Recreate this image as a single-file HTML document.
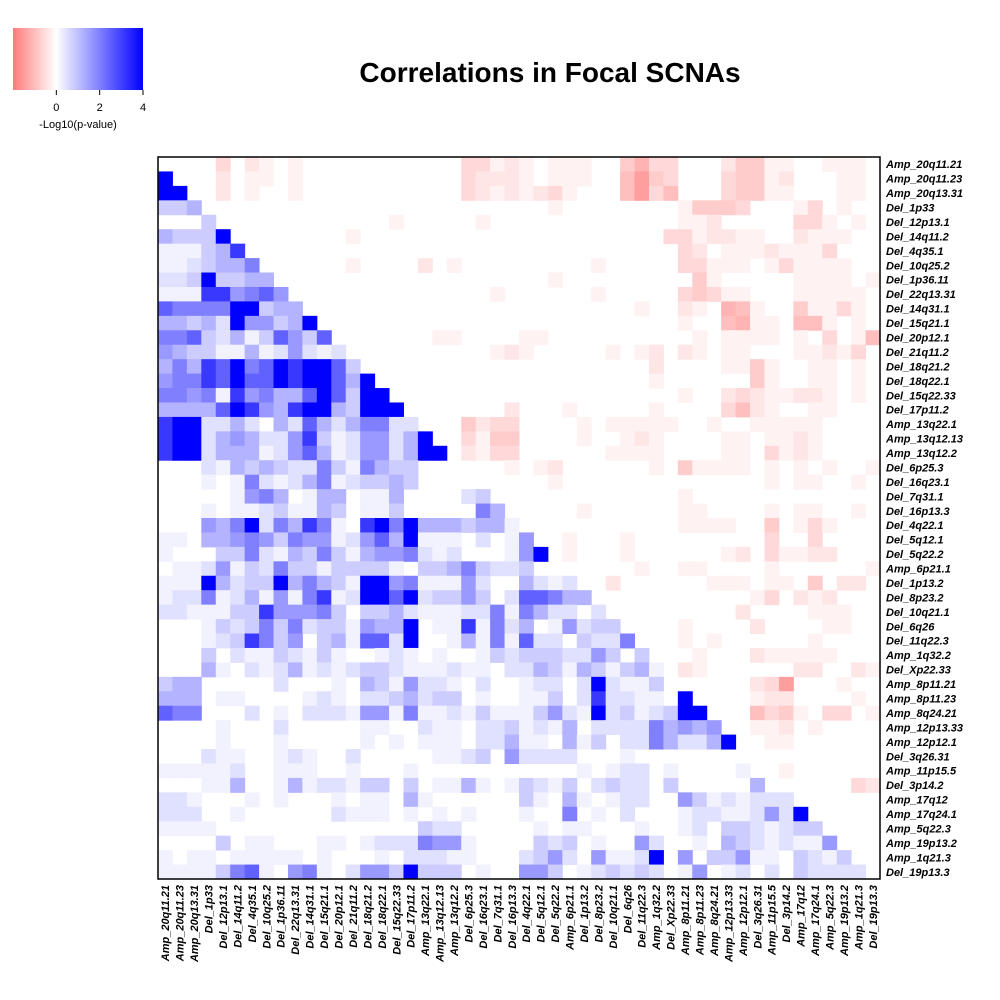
<!DOCTYPE html>
<html><head><meta charset="utf-8">
<style>
html,body{margin:0;padding:0;background:#fff;}
svg{display:block;font-family:"Liberation Sans",Arial,sans-serif;}
</style></head>
<body>
<svg id="chart" width="1000" height="1000" viewBox="0 0 1000 1000" xmlns="http://www.w3.org/2000/svg">
  <defs>
    <linearGradient id="lg" x1="0" x2="1" y1="0" y2="0">
      <stop offset="0" stop-color="#ff7a7a"/>
      <stop offset="0.333" stop-color="#ffffff"/>
      <stop offset="1" stop-color="#0000ff"/>
    </linearGradient>
  </defs>
  <text x="550" y="82" text-anchor="middle" font-size="28" font-weight="bold">Correlations in Focal SCNAs</text>
  <g>
    <rect x="13" y="28" width="130" height="62" fill="url(#lg)"/>
    <g id="legendTicks"></g>
    <text x="78" y="128" text-anchor="middle" font-size="11">-Log10(p-value)</text>
  </g>
  <g id="cells"></g>
  <rect x="158" y="157" width="722" height="722" fill="none" stroke="#000" stroke-width="1.5"/>
  <g id="rowLabels"></g>
  <g id="colLabels"></g>
</svg>
<script>
const labels = ["Amp_20q11.21","Amp_20q11.23","Amp_20q13.31","Del_1p33","Del_12p13.1","Del_14q11.2","Del_4q35.1","Del_10q25.2","Del_1p36.11","Del_22q13.31","Del_14q31.1","Del_15q21.1","Del_20p12.1","Del_21q11.2","Del_18q21.2","Del_18q22.1","Del_15q22.33","Del_17p11.2","Amp_13q22.1","Amp_13q12.13","Amp_13q12.2","Del_6p25.3","Del_16q23.1","Del_7q31.1","Del_16p13.3","Del_4q22.1","Del_5q12.1","Del_5q22.2","Amp_6p21.1","Del_1p13.2","Del_8p23.2","Del_10q21.1","Del_6q26","Del_11q22.3","Amp_1q32.2","Del_Xp22.33","Amp_8p11.21","Amp_8p11.23","Amp_8q24.21","Amp_12p13.33","Amp_12p12.1","Del_3q26.31","Amp_11p15.5","Del_3p14.2","Amp_17q12","Amp_17q24.1","Amp_5q22.3","Amp_19p13.2","Amp_1q21.3","Del_19p13.3"];
// intensity levels per row, columns 1-25; below diagonal = positive (blue), above = negative (red)
const rowsLeft = [
"0000302101"+"00000000000"+"3312",
"9000201101"+"00000000000"+"3222",
"9900201001"+"00000000000"+"3212",
"3340"+"000000000000000000000",
"00030"+"00000000000"+"1"+"00000"+"1"+"00",
"433390"+"0000000"+"1"+"00000000000",
"1113480"+"000000000000000000",
"11234460"+"00000"+"1"+"0000"+"2"+"0"+"1"+"0000",
"223933440"+"0000000000000000",
"1118856750"+"0000000000000"+"10",
"76666993440"+"00000000000000",
"443429553490"+"0000000000000",
"6673241375370"+"000000"+"11"+"0000",
"54331141252120"+"000000000"+"12",
"464879679899730"+"0000000000",
"5668797798997490"+"000000000",
"66561856447973990"+"00000000",
"444479854899439990"+"000000"+"2",
"8992242042742466220"+"00"+"4233",
"89924542258312552490"+"0"+"3144",
"899244412574125524990"+"2133",
"000"+"214343226316433"+"000"+"0"+"00"+"1",
"000"+"101621246123343"+"0000"+"0"+"00",
"00000"+"156401440114"+"0000"+"23"+"00",
"000"+"10112311430113"+"00000"+"640",
"0005469264861089694443441",
"1104456536551257491110201",
"1000336214363145562120001",
"0112513263313333103346322",
"1119423394643199561115200",
"1226124151681299792335302",
"2211133855563033421112261",
"0001323636233154490118162",
"0001238635034177290014161",
"0003021132131001210100132",
"0004102124121233211121102",
"3440000020001043152210200",
"4440110000121022342330100",
"7660002010222155161121311",
"0000100020000011002110223",
"0000100010000010101110224",
"000"+"211"+"00"+"121"+"00"+"2"+"00000"+"11"+"2305",
"1111120011100100010000000",
"0001140014122133030114101",
"2210001010001011041000000",
"2220010000002111010101000",
"1111"+"00000000000000"+"322"+"0000",
"0000301100011012226551000",
"1011011111010001022211000",
"1111367105610255393330100"
];
// intensity levels per row, columns 26-50
const rowsRight = [
"1011100463300024411001110",
"1011100574300034412000110",
"1231000573500034411000110",
"001"+"00000000"+"14443"+"000"+"13"+"0"+"1"+"00",
"00000000000"+"112"+"00000"+"331"+"010",
"0000000000"+"3312211"+"00"+"2111"+"00",
"00000000000"+"32011121113"+"000",
"00000"+"1"+"00000"+"331110131111"+"00",
"001"+"000000000"+"41"+"00000"+"1111"+"01",
"00000"+"1"+"00000"+"34311"+"000"+"11111"+"0",
"00000000"+"1"+"00"+"21"+"0"+"651"+"00"+"41131"+"0",
"00000000000"+"1"+"00"+"5611"+"0"+"551"+"0"+"1"+"0",
"11"+"0000000000"+"1"+"0"+"1111"+"0"+"1"+"0"+"3"+"0"+"1"+"5",
"1"+"00000"+"1"+"0"+"1"+"2"+"0"+"2"+"1"+"0"+"1"+"1"+"000"+"11213"+"0",
"000000000"+"2"+"0000"+"1141"+"00"+"11"+"0"+"1"+"0",
"000000000"+"1"+"000000"+"41"+"00"+"11"+"010",
"00000000000"+"1"+"00"+"23211221"+"010",
"000"+"1"+"00000"+"1"+"0000"+"3521"+"00"+"11"+"000",
"0000"+"1"+"0"+"11111"+"00"+"1"+"00"+"11111"+"0000",
"0000"+"1"+"00"+"121"+"0000"+"11"+"0"+"1121"+"0000",
"000000"+"1111"+"0000"+"11"+"0"+"3121"+"0000",
"0"+"12"+"000000"+"1"+"0"+"41111"+"0"+"1"+"0"+"1"+"0"+"1"+"00"+"1",
"00"+"1"+"00000000000000"+"1"+"0"+"11"+"00"+"1"+"0",
"00000000000"+"1"+"0000000000000",
"0000"+"1"+"000000"+"11"+"0000"+"1"+"0"+"11"+"00"+"1"+"0",
"0"+"0000000000"+"1111"+"00"+"4"+"0"+"1"+"3"+"1"+"000",
"5"+"0"+"0"+"1"+"000"+"1"+"000000000"+"3"+"00"+"3"+"0000",
"59"+"0"+"1"+"000"+"1"+"000000"+"12"+"0"+"31122"+"000",
"3"+"00"+"0"+"0000"+"1"+"00"+"11"+"0000"+"1"+"000000"+"1",
"4212"+"0"+"0"+"2"+"000000"+"111"+"0"+"11"+"0"+"4"+"0"+"22"+"0",
"77644"+"0"+"0000000000"+"1"+"3"+"0"+"2"+"1"+"2"+"000",
"642202"+"0"+"00000000"+"2"+"0000"+"111"+"00",
"4015233"+"0"+"000"+"1"+"0000"+"2"+"0000"+"11"+"00",
"72203226"+"0"+"00"+"1"+"0"+"1"+"000000"+"1"+"0000",
"333225303"+"0"+"00"+"1"+"000"+"211111"+"000",
"2431431341"+"0"+"21"+"000000"+"22"+"00"+"21",
"12202921130"+"0"+"0000"+"237"+"000"+"1"+"00",
"113028221109"+"0"+"000"+"122"+"0000"+"1"+"0",
"1352192312399"+"0"+"00"+"5341"+"0"+"33"+"0"+"1",
"12140222264545"+"0"+"0"+"112"+"0"+"1"+"0000",
"110413022642249"+"0"+"0"+"11"+"000000",
"2222"+"000100"+"000000"+"0"+"0"+"0"+"00000000",
"00001012201000010"+"0"+"1"+"000000",
"321302322030000040"+"0"+"0000"+"32",
"3104101220053121222"+"0"+"00000",
"10060102000122112529"+"0"+"0000",
"010110001001203321233"+"0"+"000",
"0323010052001043212115"+"0"+"00",
"23520511290503351103213"+"0"+"0",
"553012323201501202032222"+"0"
];
// legend ticks
const legendTicks = [0, 2, 4];
const legendMin = -2, legendMax = 4;

const NS = "http://www.w3.org/2000/svg";
const x0 = 158, y0 = 157, W = 722, N = labels.length, cs = W / N;
const blueT = [0,0.05,0.12,0.2,0.3,0.4,0.5,0.62,0.78,1];
const redT  = [0,0.05,0.1,0.15,0.2,0.25,0.3,0.38,0.46,0.55];
function xCol(j){ return x0 + j*cs; }
function yRow(i){ return y0 + i*cs; }
function color(i,j,d){
  if (d===0 || i===j) return null;
  if (j<i){ const t=blueT[d]; const c=Math.round(255*(1-t)); return `rgb(${c},${c},255)`; }
  const t=redT[d]; const c=Math.round(255*(1-t)); return `rgb(255,${c},${c})`;
}
const cells = document.getElementById('cells');
for (let i=0;i<N;i++){
  const row = (rowsLeft[i]||"") + (rowsRight[i]||"");
  for (let j=0;j<N;j++){
    const d = parseInt(row[j]||"0",10);
    const col = color(i,j,d);
    if (!col) continue;
    const r = document.createElementNS(NS,'rect');
    r.setAttribute('x', xCol(j).toFixed(2));
    r.setAttribute('y', yRow(i).toFixed(2));
    r.setAttribute('width', (cs+0.5).toFixed(2));
    r.setAttribute('height', (cs+0.5).toFixed(2));
    r.setAttribute('fill', col);
    
    
    cells.appendChild(r);
  }
}
const rl = document.getElementById('rowLabels');
const cl = document.getElementById('colLabels');
labels.forEach((lab,i)=>{
  const t = document.createElementNS(NS,'text');
  t.setAttribute('x', 886);
  t.setAttribute('y', (yRow(i)+cs/2+4).toFixed(2));
  t.setAttribute('font-size', '11');
  t.setAttribute('font-weight', 'bold');
  t.setAttribute('font-style', 'italic');
  t.textContent = lab;
  
  
  rl.appendChild(t);
  const c = document.createElementNS(NS,'text');
  const cx = xCol(i)+cs/2+4, cy = 885;
  c.setAttribute('x', cx.toFixed(2));
  c.setAttribute('y', cy);
  c.setAttribute('transform', `rotate(-90 ${cx.toFixed(2)} ${cy})`);
  c.setAttribute('text-anchor', 'end');
  c.setAttribute('font-size', '11');
  c.setAttribute('font-weight', 'bold');
  c.setAttribute('font-style', 'italic');
  c.textContent = lab;
  
  
  cl.appendChild(c);
});
const lt = document.getElementById('legendTicks');
legendTicks.forEach(v=>{
  const x = 13 + (v-legendMin)/(legendMax-legendMin)*130;
  const l = document.createElementNS(NS,'line');
  l.setAttribute('x1', x); l.setAttribute('x2', x);
  l.setAttribute('y1', 90); l.setAttribute('y2', 95);
  l.setAttribute('stroke', '#000');
  
  
  lt.appendChild(l);
  const t = document.createElementNS(NS,'text');
  t.setAttribute('x', x); t.setAttribute('y', 111);
  t.setAttribute('text-anchor', 'middle');
  t.setAttribute('font-size', '11');
  t.textContent = v;
  
  
  lt.appendChild(t);
});
</script>
</body></html>
